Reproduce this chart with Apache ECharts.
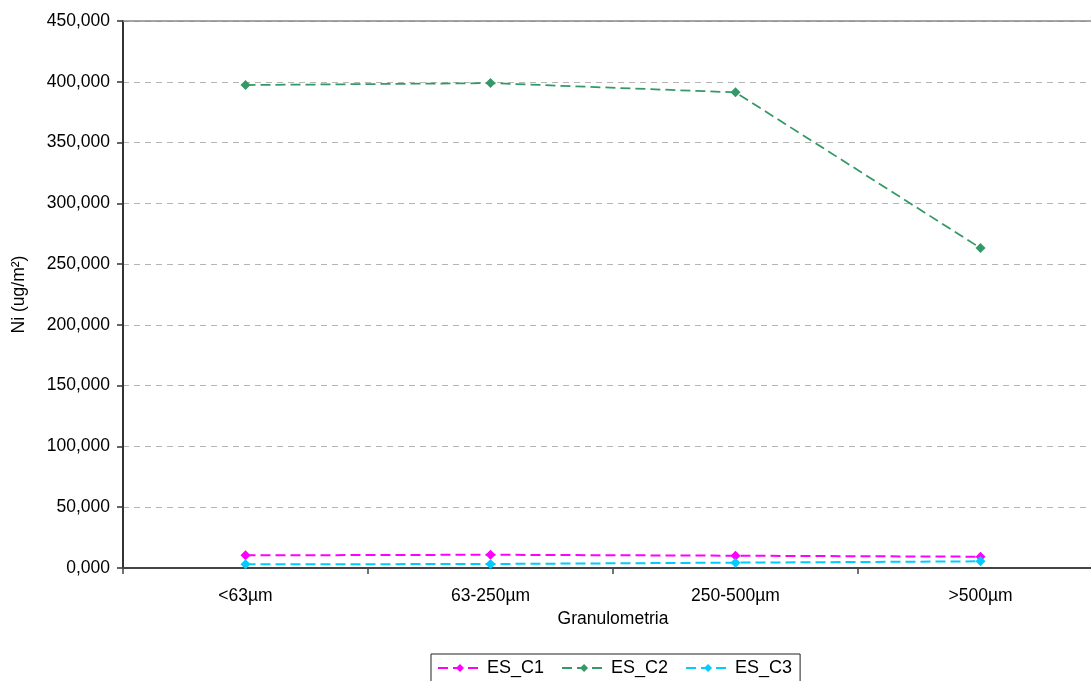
<!DOCTYPE html>
<html>
<head>
<meta charset="utf-8">
<script src="https://cdn.jsdelivr.net/npm/echarts@6/dist/echarts.min.js"></script>
<style>
html,body{margin:0;padding:0;background:#fff;}
#chart{width:1091px;height:681px;}
</style>
</head>
<body>
<div id="chart"></div>
<script>
const categories = ['<63µm', '63-250µm', '250-500µm', '>500µm'];
const ES_C1 = [10.4, 10.9, 10.1, 9.3];
const ES_C2 = [397.3, 398.9, 391.3, 263.2];
const ES_C3 = [3.0, 3.3, 4.4, 5.5];
const yTicks = { min: 0, max: 450, interval: 50 };

const FONT = 'Liberation Sans, Arial, sans-serif';
const chart = echarts.init(document.getElementById('chart'), null, { renderer: 'canvas' });

function mkSeries(name, data, color, width) {
  return {
    name: name,
    type: 'line',
    data: data,
    symbol: 'diamond',
    symbolSize: 10,
    itemStyle: { color: color },
    lineStyle: { color: color, width: width, type: [10, 5] },
    emphasis: { disabled: true }
  };
}

chart.setOption({
  animation: false,
  backgroundColor: '#fff',
  textStyle: { fontFamily: FONT },
  grid: { left: 123, top: 21, width: 980, height: 547, containLabel: false, outerBoundsMode: 'none' },
  xAxis: [{
    type: 'category',
    data: categories,
    boundaryGap: true,
    name: 'Granulometria',
    nameLocation: 'middle',
    nameGap: 42,
    nameTextStyle: { fontSize: 17.5, color: '#000', fontFamily: FONT },
    axisLine: { lineStyle: { color: '#444', width: 2 } },
    axisTick: { show: true, length: 6, inside: false, lineStyle: { color: '#444', width: 1.5 } },
    axisLabel: { fontSize: 17.5, color: '#000', margin: 19, fontFamily: FONT },
    splitLine: { show: false }
  }, {
    type: 'category',
    data: categories,
    position: 'top',
    axisLine: { lineStyle: { color: '#888', width: 1.5 } },
    axisTick: { show: false },
    axisLabel: { show: false },
    splitLine: { show: false }
  }],
  yAxis: {
    type: 'value',
    min: yTicks.min,
    max: yTicks.max,
    interval: yTicks.interval,
    name: 'Ni (ug/m²)',
    nameLocation: 'middle',
    nameRotate: 90,
    nameGap: 95,
    nameTextStyle: { fontSize: 17.5, color: '#000', fontFamily: FONT },
    axisLine: { show: true, lineStyle: { color: '#333', width: 2 } },
    axisTick: { show: true, length: 6, lineStyle: { color: '#333', width: 1.5 } },
    axisLabel: {
      fontSize: 17.5, color: '#000', margin: 13, fontFamily: FONT,
      formatter: v => v.toFixed(3).replace('.', ',')
    },
    splitLine: { show: true, lineStyle: { color: '#b4b4b4', width: 1, type: [6, 5] } }
  },
  legend: {
    left: 431,
    top: 654,
    orient: 'horizontal',
    itemWidth: 44,
    itemHeight: 10,
    itemGap: 17,
    padding: [5, 8, 10, 6],
    borderColor: '#222',
    borderWidth: 1,
    textStyle: { fontSize: 18, color: '#000', fontFamily: FONT },
    data: ['ES_C1', 'ES_C2', 'ES_C3']
  },
  series: [
    mkSeries('ES_C1', ES_C1, '#ff00ff', 2),
    mkSeries('ES_C2', ES_C2, '#339966', 1.75),
    mkSeries('ES_C3', ES_C3, '#00ccff', 2)
  ]
});
</script>
</body>
</html>
